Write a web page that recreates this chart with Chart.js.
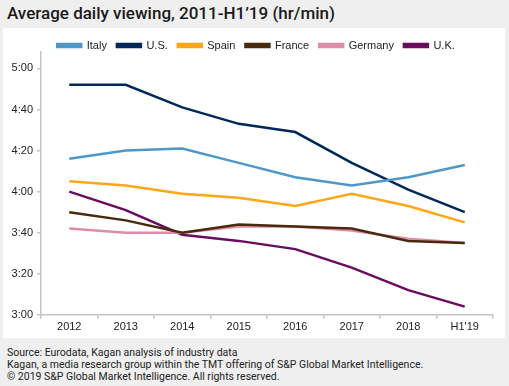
<!DOCTYPE html>
<html>
<head>
<meta charset="utf-8">
<script src="https://cdn.jsdelivr.net/npm/chart.js@4.4.1/dist/chart.umd.min.js"></script>
<style>
  body { margin: 0; background: #efefef; width: 509px; height: 386px; position: relative; overflow: hidden; }
  #title { position: absolute; left: 7px; top: 3px; font: 500 17px Roboto, sans-serif; color: #1a1a1a; }
  #panel { position: absolute; left: 3px; top: 28px; width: 502px; height: 310px; background: #fff; }
  #foot { position: absolute; left: 7px; top: 347px; font: 10.5px Roboto, sans-serif; color: #222; line-height: 12px; }
</style>
</head>
<body>
<div id="title">Average daily viewing, 2011-H1’19 (hr/min)</div>
<div id="panel"><canvas id="mygraph" width="502" height="310"></canvas></div>
<div id="foot">Source: Eurodata, Kagan analysis of industry data<br>Kagan, a media research group within the TMT offering of S&amp;P Global Market Intelligence.<br>© 2019 S&amp;P Global Market Intelligence. All rights reserved.</div>
<script>
// minutes of viewing per day
const years = ['2012', '2013', '2014', '2015', '2016', '2017', '2018', "H1'19"]
const italy = [256, 260, 261, 254, 247, 243, 247, 253]
const us = [292, 292, 281, 273, 269, 254, 241, 230]
const spain = [245, 243, 239, 237, 233, 239, 233, 225]
const france = [230, 226, 220, 224, 223, 222, 216, 215]
const germany = [222, 220, 220, 223, 223, 221, 217, 215]
const uk = [240, 231, 219, 216, 212, 203, 192, 184]

function line(label, data, color) {
    return {label: label, data: data, borderColor: color, backgroundColor: color,
            borderWidth: 2.5, pointRadius: 0, tension: 0}
}

// shorter legend box, nudged right to sit like the original
const legendTweak = {
    id: 'legendTweak',
    beforeInit(chart) {
        const fit = chart.legend.fit
        chart.legend.fit = function () { fit.bind(chart.legend)(); this.height = 22 }
    },
    afterLayout(chart) {
        chart.legend.left += 8
        chart.legend.right += 8
    }
}

const axisColor = '#c4c4c4'
const tickFont = {family: "'Liberation Sans', Arial, sans-serif", size: 11}

const ctx = document.getElementById('mygraph').getContext('2d')
const chart = new Chart(ctx, {
    type: 'line',
    data: {labels: years, datasets: [
        line('Italy', italy, '#4e98c8'),
        line('U.S.', us, '#02285a'),
        line('Spain', spain, '#ffa615'),
        line('France', france, '#4a2a0e'),
        line('Germany', germany, '#e08ba8'),
        line('U.K.', uk, '#6a0d5e')
    ]},
    plugins: [legendTweak],
    options: {
        responsive: false,
        animation: {duration: 0},
        layout: {padding: {top: 2, right: 12, bottom: 2, left: 0}},
        plugins: {
            legend: {
                labels: {boxWidth: 24, boxHeight: 3, padding: 10, color: '#222', font: tickFont}
            },
            tooltip: {enabled: false}
        },
        scales: {
            x: {
                offset: true,
                border: {color: axisColor, width: 1.5},
                grid: {offset: true, drawOnChartArea: false, tickLength: 4, color: axisColor, lineWidth: 1.5},
                ticks: {color: '#222', font: tickFont, padding: 2, maxRotation: 0}
            },
            y: {
                min: 180,
                max: 308,
                afterFit: function (scale) { scale.width = 38 },
                afterBuildTicks: function (scale) { scale.ticks = scale.ticks.filter(t => t.value % 20 === 0) },
                border: {color: axisColor, width: 1.5},
                grid: {drawOnChartArea: false, tickLength: 4, color: axisColor, lineWidth: 1.5},
                ticks: {
                    stepSize: 20, color: '#222', font: tickFont, padding: 4,
                    callback: function (v) { return Math.floor(v / 60) + ':' + String(v % 60).padStart(2, '0') }
                }
            }
        }
    }
})
</script>
</body>
</html>
